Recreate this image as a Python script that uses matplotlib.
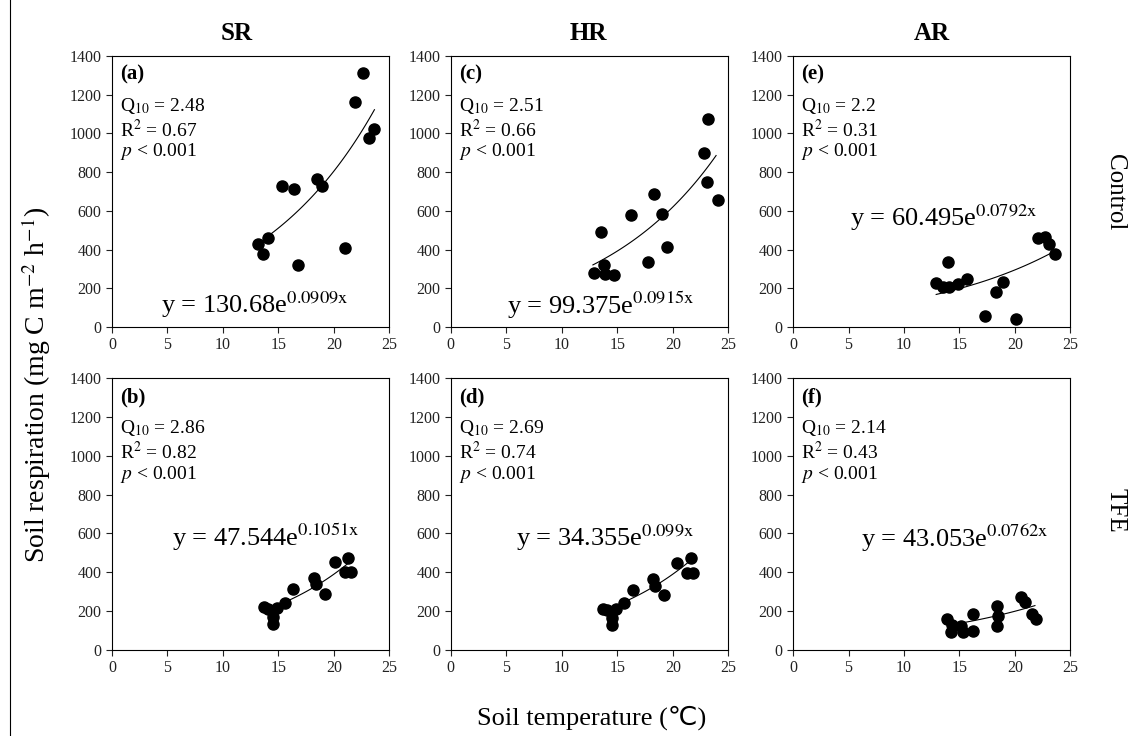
import numpy as np
import matplotlib
matplotlib.use('Agg')
import matplotlib.pyplot as plt
from matplotlib.lines import Line2D

plt.rcParams['font.family'] = ['Liberation Serif', 'DejaVu Serif', 'DejaVu Sans']
plt.rcParams['mathtext.fontset'] = 'stix'

# panel data: soil temperature (C) and respiration (mg C m-2 h-1)
sr_ctrl_t = [13.2, 13.6, 14.1, 15.35, 16.4, 16.8, 18.5, 18.9, 21.0, 21.9, 22.6, 23.2, 23.6]
sr_ctrl_r = [427, 375, 458, 728, 711, 320, 763, 728, 406, 1162, 1313, 978, 1024]

hr_ctrl_t = [12.9, 13.5, 13.8, 13.9, 14.7, 16.2, 17.8, 18.3, 19.0, 19.5, 22.8, 23.1, 23.2, 24.05]
hr_ctrl_r = [281, 491, 320, 274, 269, 577, 334, 687, 584, 413, 899, 747, 1076, 656]

ar_ctrl_t = [12.9, 13.5, 14.0, 14.1, 14.9, 15.7, 17.3, 18.3, 18.9, 20.1, 22.1, 22.7, 23.1, 23.6]
ar_ctrl_r = [229, 208, 334, 208, 224, 246, 58, 182, 231, 40, 461, 466, 427, 375]

sr_tfe_t = [13.7, 14.1, 14.5, 14.5, 14.9, 15.6, 16.3, 18.2, 18.4, 19.2, 20.1, 21.0, 21.3, 21.5]
sr_tfe_r = [217, 207, 168, 131, 212, 241, 313, 370, 336, 289, 452, 401, 473, 399]

hr_tfe_t = [13.7, 14.1, 14.5, 14.5, 14.9, 15.6, 16.4, 18.2, 18.4, 19.25, 20.4, 21.3, 21.6, 21.8]
hr_tfe_r = [208, 203, 163, 126, 207, 238, 306, 363, 329, 284, 447, 396, 470, 396]

ar_tfe_t = [13.9, 14.2, 14.3, 15.1, 15.3, 16.2, 16.2, 18.4, 18.4, 18.5, 20.5, 20.9, 21.5, 21.9]
ar_tfe_r = [155, 90, 124, 121, 93, 183, 98, 224, 121, 172, 269, 245, 181, 159]

# printed equations, panel order a, b, c, d, e, f
fit_a_txt = ['130.68', '47.544', '99.375', '34.355', '60.495', '43.053']
fit_b_txt = ['0.0909', '0.1051', '0.0915', '0.099', '0.0792', '0.0762']
q10 = ['2.48', '2.86', '2.51', '2.69', '2.2', '2.14']
r2 = ['0.67', '0.82', '0.66', '0.74', '0.31', '0.43']
# trend curves as drawn (panel d shows the same curve as panel b)
line_a = [130.68, 47.544, 99.375, 47.544, 60.495, 43.053]
line_b = [0.0909, 0.1051, 0.0915, 0.1051, 0.0792, 0.0762]
line_lo = [14.1, 15.6, 12.8, 15.6, 12.9, 14.9]
line_hi = [23.65, 21.5, 23.9, 21.4, 23.4, 21.8]

letters = ['(a)', '(b)', '(c)', '(d)', '(e)', '(f)']
col_titles = ['SR', 'HR', 'AR']
row_titles = ['Control', 'TFE']

temps = [sr_ctrl_t, sr_tfe_t, hr_ctrl_t, hr_tfe_t, ar_ctrl_t, ar_tfe_t]
resps = [sr_ctrl_r, sr_tfe_r, hr_ctrl_r, hr_tfe_r, ar_ctrl_r, ar_tfe_r]

# axes layout (figure fractions)
lefts = [0.0991, 0.399, 0.7018]
bottoms = [0.5557, 0.1175]
w, h = 0.2455, 0.3685
eq_pos = [(0.514, 0.081), (0.556, 0.415), (0.539, 0.081),
          (0.558, 0.411), (0.543, 0.402), (0.583, 0.411)]
title_x = [237, 588, 932]

fig = plt.figure(figsize=(11.3, 7.36), dpi=100)

k = 0
for c in range(3):
    for r in range(2):
        ax = fig.add_axes([lefts[c], bottoms[r], w, h])
        ax.plot(temps[k], resps[k], 'o', color='black', markersize=8)
        xs = np.linspace(line_lo[k], line_hi[k], 100)
        ax.plot(xs, line_a[k] * np.exp(line_b[k] * xs), color='black', lw=0.8)
        ax.set_xlim(0, 25)
        ax.set_ylim(0, 1400)
        ax.set_xticks(range(0, 26, 5))
        ax.set_yticks(range(0, 1401, 200))
        ax.tick_params(direction='out', length=4, width=0.8, labelsize=11.5, colors='#222222')
        for s in ax.spines.values():
            s.set_linewidth(0.8)
        ax.text(0.03, 0.93, letters[k], transform=ax.transAxes, fontsize=15,
                fontweight='bold', va='center', ha='left')
        ax.text(0.03, 0.815, 'Q$_{10}$ = ' + q10[k], transform=ax.transAxes,
                fontsize=14, va='center', ha='left')
        ax.text(0.03, 0.727, 'R$^{2}$ = ' + r2[k], transform=ax.transAxes,
                fontsize=14, va='center', ha='left')
        ax.text(0.03, 0.646, '$p$ < 0.001', transform=ax.transAxes,
                fontsize=14, va='center', ha='left')
        ex, ey = eq_pos[k]
        ax.text(ex, ey, 'y = ' + fit_a_txt[k] + 'e$^{\\mathrm{' + fit_b_txt[k] + 'x}}$',
                transform=ax.transAxes, fontsize=19, va='center', ha='center')
        k += 1

for c in range(3):
    fig.text(title_x[c] / 1130, 1 - 34 / 736, col_titles[c], fontsize=18,
             fontweight='bold', ha='center', va='center')

fig.text(1115 / 1130, 1 - 192 / 736, row_titles[0], rotation=270, fontsize=18,
         ha='center', va='center')
fig.text(1115 / 1130, 1 - 510 / 736, row_titles[1], rotation=270, fontsize=18,
         ha='center', va='center')
fig.text(36 / 1130, 1 - 385 / 736, 'Soil respiration (mg C m$^{-2}$ h$^{-1}$)', rotation=90,
         fontsize=20, ha='center', va='center')
fig.text(592 / 1130, 1 - 718 / 736, 'Soil temperature (℃)', fontsize=19,
         ha='center', va='center', family=['Liberation Serif', 'DejaVu Sans'])

fig.add_artist(Line2D([10 / 1130, 10 / 1130], [0, 1], color='black', lw=0.8))

fig.savefig('out.png', dpi=100)
